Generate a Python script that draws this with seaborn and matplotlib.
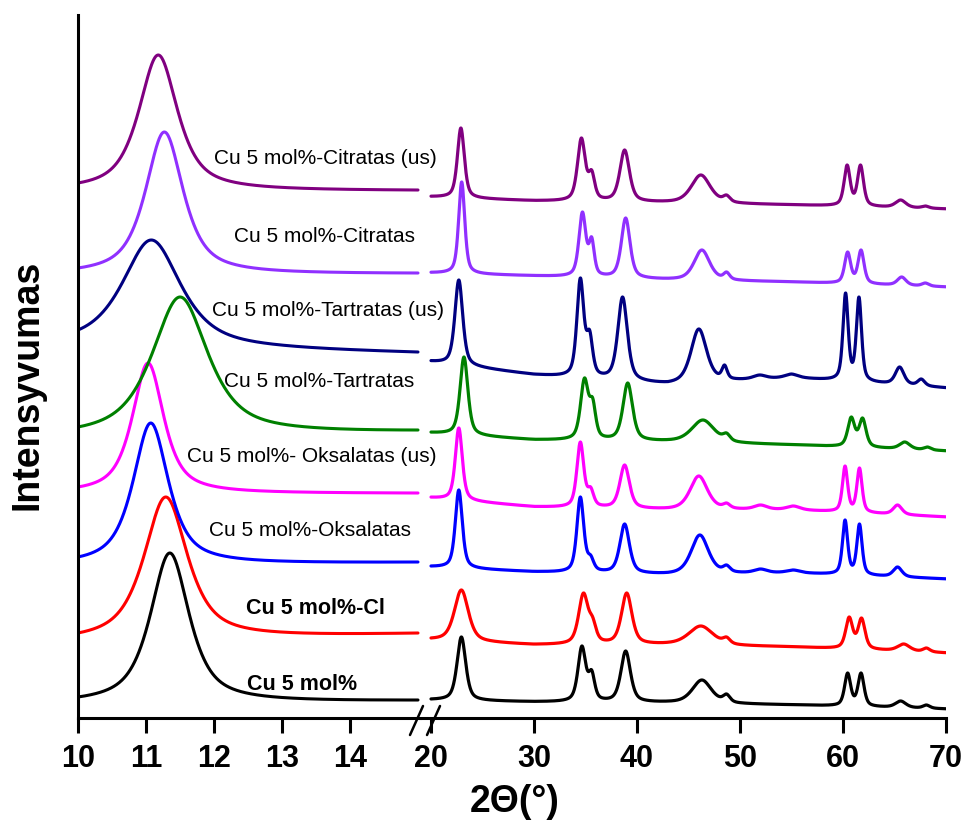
import matplotlib
matplotlib.use("Agg")
import matplotlib.pyplot as plt
import numpy as np
import seaborn as sns
from matplotlib.lines import Line2D

sns.set_theme(style="white")
plt.rcParams["font.family"] = ["Liberation Sans", "DejaVu Sans"]
plt.rcParams["text.color"] = "black"
plt.rcParams["xtick.color"] = "black"
plt.rcParams["axes.edgecolor"] = "black"

# --- data (stacked intensity, a.u.) ---
samples = [
    "Cu 5 mol%",
    "Cu 5 mol%-Cl",
    "Cu 5 mol%-Oksalatas",
    "Cu 5 mol%- Oksalatas (us)",
    "Cu 5 mol%-Tartratas",
    "Cu 5 mol%-Tartratas (us)",
    "Cu 5 mol%-Citratas",
    "Cu 5 mol%-Citratas (us)",
]
colors = ["#000000", "#ff0000", "#0000ff", "#ff00ff",
          "#008000", "#000080", "#9030ff", "#800080"]

# low-angle region (10-15 deg): one broad reflection per sample
low_center = [11.35, 11.29, 11.07, 11.03, 11.50, 11.08, 11.27, 11.18]
low_fwhm = [0.68, 0.76, 0.62, 0.55, 0.98, 1.03, 0.66, 0.68]
low_top = [165, 221, 295, 355, 421, 478, 586, 663]
low_start = [21, 85, 161, 231, 291, 388, 450, 535]   # level at 10 deg
low_end = [18, 85, 156, 225, 288, 366, 445, 528]     # level at 15 deg

# high-angle region (20-70 deg)
hi_base_x = [20, 30, 43, 55, 70]
hi_base = [
    [18, 16, 15, 13, 9],
    [78, 73, 73, 71, 65],
    [151, 146, 143, 145, 139],
    [220, 211, 208, 208, 201],
    [285, 278, 276, 273, 267],
    [356, 343, 333, 340, 330],
    [445, 442, 438, 436, 431],
    [521, 517, 515, 513, 509],
]
hi_centers = [
    [22.95, 34.65, 35.6, 38.9, 46.3, 48.7, 60.45, 61.75, 65.6, 68.1],
    [22.95, 34.8, 35.7, 39.0, 46.2, 48.7, 60.6, 61.8, 65.9, 68.1],
    [22.7, 34.5, 35.5, 38.8, 46.1, 48.7, 52.0, 55.2, 60.2, 61.6, 65.3],
    [22.7, 34.5, 35.5, 38.8, 46.0, 48.7, 52.0, 55.2, 60.2, 61.6, 65.3],
    [23.2, 34.9, 35.7, 39.1, 46.4, 48.7, 60.8, 61.9, 66.0, 68.2],
    [22.7, 34.5, 35.4, 38.6, 46.0, 48.5, 51.9, 55.0, 60.25, 61.55, 65.5, 67.6],
    [22.98, 34.7, 35.6, 38.9, 46.3, 48.7, 60.45, 61.75, 65.7, 68.0],
    [22.9, 34.6, 35.6, 38.8, 46.2, 48.7, 60.4, 61.7, 65.6, 68.0],
]
hi_tops = [
    [81, 72, 48, 67, 38, 24, 45, 45, 17, 13],
    [128, 125, 101, 125, 92, 81, 101, 100, 74, 70],
    [228, 221, 163, 194, 183, 153, 149, 148, 198, 194, 151],
    [290, 276, 231, 253, 242, 215, 213, 212, 252, 250, 213],
    [361, 340, 320, 335, 298, 285, 301, 300, 276, 271],
    [438, 440, 388, 421, 389, 353, 343, 344, 425, 421, 351, 339],
    [536, 506, 481, 500, 468, 446, 466, 468, 441, 435],
    [590, 580, 548, 568, 543, 523, 553, 553, 518, 512],
]
hi_widths = [
    [1.0, 0.9, 0.7, 1.1, 2.2, 0.8, 0.7, 0.7, 1.2, 0.8],
    [1.6, 1.1, 0.8, 1.2, 2.8, 0.8, 0.8, 0.8, 1.4, 0.8],
    [0.8, 0.8, 0.7, 1.1, 2.0, 0.8, 1.5, 1.5, 0.6, 0.6, 1.0],
    [0.8, 0.8, 0.7, 1.1, 2.0, 0.8, 1.5, 1.5, 0.6, 0.6, 1.0],
    [0.9, 0.9, 0.7, 1.1, 2.6, 0.8, 0.8, 0.8, 1.2, 0.8],
    [0.9, 0.8, 0.7, 1.1, 1.8, 0.6, 1.5, 1.5, 0.6, 0.6, 1.0, 0.8],
    [0.7, 0.8, 0.6, 1.0, 1.8, 0.7, 0.7, 0.7, 1.0, 0.8],
    [0.8, 0.9, 0.7, 1.1, 2.2, 0.8, 0.7, 0.7, 1.2, 0.8],
]

low_ticks = [10, 11, 12, 13, 14]
hi_ticks = [20, 30, 40, 50, 60, 70]

LOW_ETA = 0.75
HI_ETA = 0.55

W, H = 966, 823


def pv(x, c, w, eta):
    u = (x - c) / (w / 2.0)
    return eta / (1 + u ** 2) + (1 - eta) * np.exp(-np.log(2) * u ** 2)


def low_curve(i, x):
    c, w = low_center[i], low_fwhm[i]
    pts = np.array([10.0, 15.0, c])
    frac = (pts - 10.0) / 5.0
    m = np.column_stack([1 - frac, frac, pv(pts, c, w, LOW_ETA)])
    b0, b1, a = np.linalg.solve(m, [low_start[i], low_end[i], low_top[i]])
    return b0 + (b1 - b0) * (x - 10.0) / 5.0 + a * pv(x, c, w, LOW_ETA)


def hi_curve(i, x):
    c = np.array(hi_centers[i])
    w = np.array(hi_widths[i])
    t = np.array(hi_tops[i], dtype=float)
    m = pv(c[:, None], c[None, :], w[None, :], HI_ETA)
    a = np.linalg.solve(m, t - np.interp(c, hi_base_x, hi_base[i]))
    return np.interp(x, hi_base_x, hi_base[i]) + pv(x[:, None], c, w, HI_ETA) @ a


def px(x, y):
    return x / W, 1 - y / H


fig = plt.figure(figsize=(W / 100, H / 100), dpi=100)
x_left, x_split, x_right = 78, 420, 946
y_bot, y_top = 718, 15
ax_lo = fig.add_axes([x_left / W, 1 - y_bot / H, (x_split - x_left) / W, (y_bot - y_top) / H])
ax_hi = fig.add_axes([x_split / W, 1 - y_bot / H, (x_right - x_split) / W, (y_bot - y_top) / H])

x_lo = np.linspace(10, 15, 800)
x_hi = np.linspace(20, 70, 4000)
for i, col in enumerate(colors):
    sns.lineplot(x=x_lo, y=low_curve(i, x_lo), ax=ax_lo, color=col,
                 linewidth=2.2, estimator=None, sort=False)
    sns.lineplot(x=x_hi, y=hi_curve(i, x_hi), ax=ax_hi, color=col,
                 linewidth=2.3, estimator=None, sort=False)

ax_lo.set_xlim(10, 10 + (x_split - x_left) / 68.0)
ax_hi.set_xlim(20 - (431 - x_split) / 10.3, 70)
for ax in (ax_lo, ax_hi):
    ax.set_ylim(0, y_bot - y_top)
    ax.set_yticks([])
    ax.set_xlabel("")
    ax.set_ylabel("")
    ax.spines["top"].set_visible(False)
    ax.spines["right"].set_visible(False)
    ax.spines["bottom"].set_linewidth(2.2)
    ax.spines["left"].set_linewidth(2.2)
    ax.tick_params(axis="x", direction="out", length=10.5, width=2.2,
                   pad=8, labelsize=22, bottom=True, color="black", labelcolor="black")
ax_hi.spines["left"].set_visible(False)
ax_lo.set_xticks(low_ticks)
ax_lo.set_xticklabels([str(t) for t in low_ticks], fontweight="bold", fontsize=22)
ax_hi.set_xticks(hi_ticks)
ax_hi.set_xticklabels([str(t) for t in hi_ticks], fontweight="bold", fontsize=22)

# axis break marks
for x0 in (410, 427):
    fig.add_artist(Line2D([x0 / W, (x0 + 13) / W], [1 - 735 / H, 1 - 706 / H],
                          transform=fig.transFigure, color="black", linewidth=1.8))

# sample labels
label_xy = [(302, 684), (315, 608), (310, 530), (312, 457),
            (319, 381), (328, 310), (325, 237), (325, 158)]
for name, (lx, ly) in zip(samples, label_xy):
    bold = name in ("Cu 5 mol%", "Cu 5 mol%-Cl")
    fig.text(*px(lx, ly), name, ha="center", va="center",
             fontsize=15.5 if bold else 15, fontweight="bold" if bold else "normal",
             color="black")

fig.text(*px(515, 802), "2Θ(°)", ha="center", va="center", fontsize=27, fontweight="bold")
fig.text(*px(28, 385), "Intensyvumas", ha="center", va="center", rotation=90,
         fontsize=27, fontweight="bold")

fig.savefig("out.png", dpi=100)
